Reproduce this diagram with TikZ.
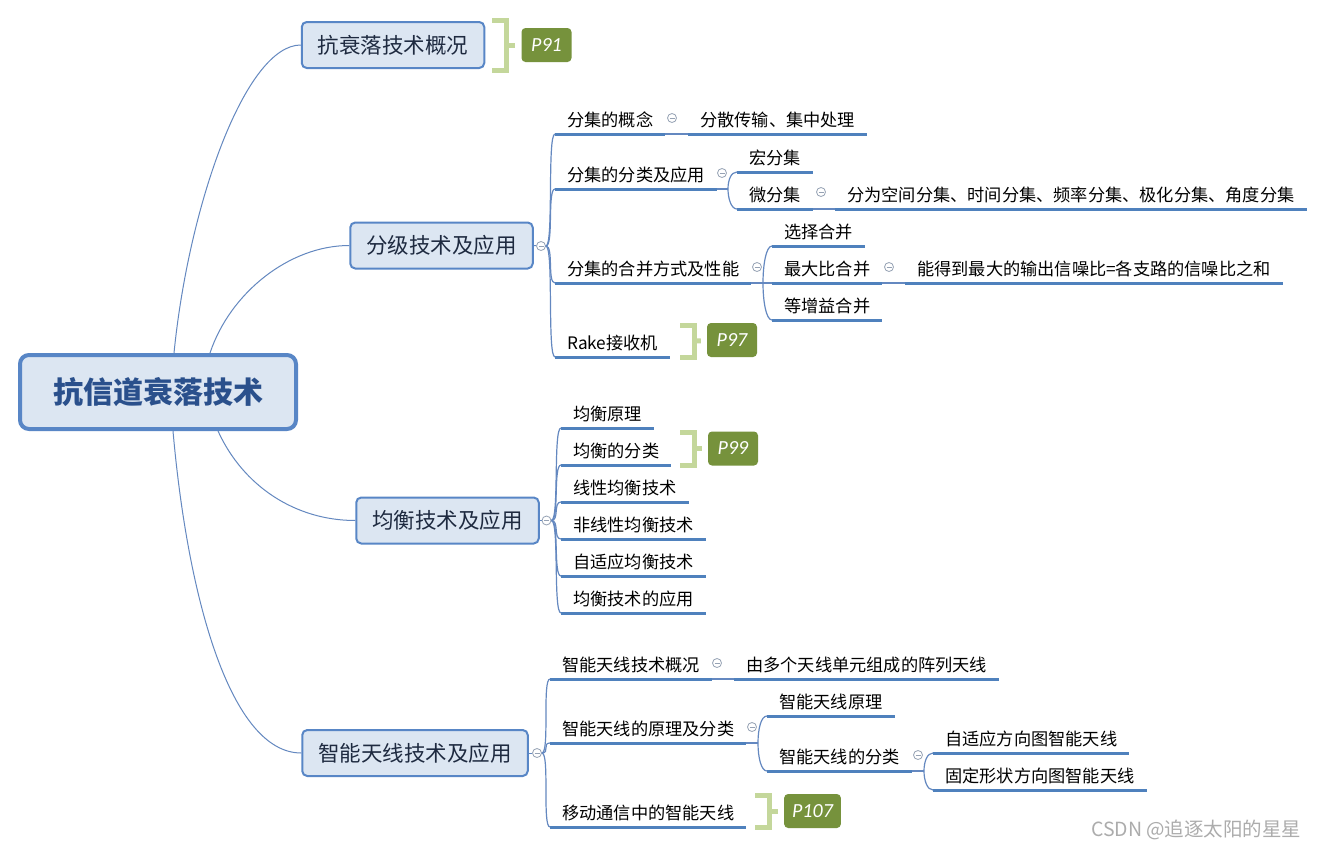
\documentclass[tikz,border=0pt]{standalone}
\usepackage{fontspec}
\setmainfont{Noto Sans CJK SC}
\newfontfamily\tagfont{Carlito}
\usetikzlibrary{positioning, calc}

\definecolor{topic-line}{RGB}{88,134,198}
\definecolor{topic-fill}{RGB}{220,230,242}
\definecolor{root-text}{RGB}{42,80,140}
\definecolor{main-text}{RGB}{30,42,64}
\definecolor{under-line}{RGB}{79,129,189}
\definecolor{link-line}{RGB}{100,136,192}
\definecolor{fold-gray}{RGB}{150,162,180}
\definecolor{tag-green}{RGB}{118,146,60}
\definecolor{brace-green}{RGB}{196,215,155}
\definecolor{mark-gray}{RGB}{172,172,172}

\begin{document}
\begin{tikzpicture}[
    x=1pt, y=-1pt,
    rootbox/.style={rectangle, draw=topic-line, fill=topic-fill, line width=4pt, rounded corners=9pt, minimum width=276pt, minimum height=74pt, text=root-text, font=\fontsize{30}{34}\selectfont\bfseries},
    topic/.style={rectangle, draw=topic-line, fill=topic-fill, line width=2pt, rounded corners=5pt, minimum height=46pt, inner xsep=16pt, text=main-text, font=\fontsize{21.5}{25}\selectfont},
    leaf/.style={anchor=south west, inner xsep=12pt, inner ysep=4pt, text height=0.8em, text depth=0.32em, font=\fontsize{17.2}{20}\selectfont,
        append after command={(\tikzlastnode.south west) edge[draw=under-line, line width=3pt] (\tikzlastnode.south east)}},
    fold/.style={circle, draw=fold-gray, fill=white, line width=0.8pt, minimum size=9pt, inner sep=0pt,
        path picture={\draw[fold-gray, line width=0.8pt] ([xshift=-2.5pt]path picture bounding box.center) -- ([xshift=2.5pt]path picture bounding box.center);}},
    link/.style={draw=link-line, line width=1pt},
    branch/.style={draw=link-line, line width=1.2pt},
    pagetag/.style={rectangle, fill=tag-green, rounded corners=4pt, minimum width=50pt, minimum height=34pt, inner xsep=8pt, text=white, font=\tagfont\itshape\fontsize{20}{24}\selectfont},
    brace/.style={draw=brace-green, line width=5pt}
]

\fill[white] (0,0) rectangle (1320,849);
\useasboundingbox (0,0) rectangle (1320,849);

% root and main topics
\node[rootbox] (root) at (158,392) {抗信道衰落技术};
\node[topic] (gaikuang) at (393,45) {抗衰落技术概况};
\node[topic] (fenji) at (441.5,245.5) {分级技术及应用};
\node[topic] (junheng) at (447.5,520.5) {均衡技术及应用};
\node[topic] (tianxian) at (415,753) {智能天线技术及应用};

\draw[link] ([xshift=16pt]root.north) .. controls +(15,-150) and +(-55,0) .. (gaikuang.west);
\draw[link] ([xshift=52pt]root.north) .. controls +(20,-60) and +(-60,0) .. (fenji.west);
\draw[link] ([xshift=60pt]root.south) .. controls +(25,55) and +(-60,0) .. (junheng.west);
\draw[link] ([xshift=15pt]root.south) .. controls +(15,170) and +(-70,0) .. (tianxian.west);

% P91
\node[pagetag] (p91) at (546.5,45) {P91};
\draw[brace] (492,20) -| (506,70) -- (492,70);
\draw[brace, shorten >=6pt] (506,45) -- (p91);

% fenji branch
\node[fold] (fenjiFold) at (541,246) {};
\draw[link] (fenji.east) -- (fenjiFold);

\node[leaf] (gainian) at (555,134) {分集的概念};
\node[leaf] (sanshu) at (688,134) {分散传输、集中处理};
\node[fold] (gainianFold) at (672,118) {};
\draw[branch] (gainian.south east) -- (sanshu.south west);

\node[leaf] (fenlei) at (555,189) {分集的分类及应用};
\node[fold] (fenleiFold) at (722,173) {};
\node[leaf] (hong) at (737,172) {宏分集};
\node[leaf] (wei) at (737,209) {微分集};
\node[fold] (weiFold) at (821,192) {};
\node[leaf] (weiDetail) at (835,209) {分为空间分集、时间分集、频率分集、极化分集、角度分集};
\coordinate (fenleiJoin) at (728,189);
\draw[branch] (fenlei.south east) -- (fenleiJoin);
\draw[branch] (fenleiJoin) .. controls +(0,-9) and +(-6,0) .. (hong.south west);
\draw[branch] (fenleiJoin) .. controls +(0,9) and +(-6,0) .. (wei.south west);
\draw[branch] (wei.south east) -- (weiDetail.south west);

\node[leaf] (hebing) at (555,283) {分集的合并方式及性能};
\node[fold] (hebingFold) at (757,267) {};
\node[leaf] (xuanze) at (772,246) {选择合并};
\node[leaf] (zuidabi) at (772,283) {最大比合并};
\node[leaf] (dengzengyi) at (772,320) {等增益合并};
\node[fold] (zuidabiFold) at (889,267) {};
\node[leaf] (zuidabiDetail) at (905,283) {能得到最大的输出信噪比=各支路的信噪比之和};
\coordinate (hebingJoin) at (763,283);
\draw[branch] (hebing.south east) -- (zuidabi.south west);
\draw[branch] (hebingJoin) .. controls +(0,-18) and +(-6,0) .. (xuanze.south west);
\draw[branch] (hebingJoin) .. controls +(0,18) and +(-6,0) .. (dengzengyi.south west);
\draw[branch] (zuidabi.south east) -- (zuidabiDetail.south west);

\node[leaf] (rake) at (555,357) {Rake接收机};
\node[pagetag] (p97) at (732,340) {P97};
\draw[brace] (680,325) -| (694,357) -- (680,357);
\draw[brace, shorten >=6pt] (694,341) -- (p97);

\foreach \leafname in {gainian, fenlei, hebing, rake}
  \draw[branch] (fenjiFold.east) .. controls +(8,0) and +(-8,0) .. (\leafname.south west);

% junheng branch
\node[fold] (junhengFold) at (546.5,520.5) {};
\draw[link] (junheng.east) -- (junhengFold);

\node[leaf] (yuanli) at (561,428) {均衡原理};
\node[leaf] (jhFenlei) at (561,465) {均衡的分类};
\node[leaf] (xianxing) at (561,502) {线性均衡技术};
\node[leaf] (feixianxing) at (561,539) {非线性均衡技术};
\node[leaf] (zishiying) at (561,576) {自适应均衡技术};
\node[leaf] (yingyong) at (561,613) {均衡技术的应用};

\node[pagetag] (p99) at (733,448.5) {P99};
\draw[brace] (680,432) -| (694,465) -- (680,465);
\draw[brace, shorten >=6pt] (694,448.5) -- (p99);

\foreach \leafname in {yuanli, jhFenlei, xianxing, feixianxing, zishiying, yingyong}
  \draw[branch] (junhengFold.east) .. controls +(8,0) and +(-8,0) .. (\leafname.south west);

% tianxian branch
\node[fold] (tianxianFold) at (537,753) {};
\draw[link] (tianxian.east) -- (tianxianFold);

\node[leaf] (txGaikuang) at (550,679) {智能天线技术概况};
\node[fold] (txGaikuangFold) at (717,663) {};
\node[leaf] (zhenlie) at (734,679) {由多个天线单元组成的阵列天线};
\draw[branch] (txGaikuang.south east) -- (zhenlie.south west);

\node[leaf] (txYuanli) at (550,743) {智能天线的原理及分类};
\node[fold] (txYuanliFold) at (752,727) {};
\node[leaf] (txJiben) at (767,716) {智能天线原理};
\node[leaf] (txFenlei) at (767,771) {智能天线的分类};
\coordinate (txYuanliJoin) at (758,743);
\draw[branch] (txYuanli.south east) -- (txYuanliJoin);
\draw[branch] (txYuanliJoin) .. controls +(0,-14) and +(-6,0) .. (txJiben.south west);
\draw[branch] (txYuanliJoin) .. controls +(0,14) and +(-6,0) .. (txFenlei.south west);

\node[fold] (txFenleiFold) at (918,755) {};
\node[leaf] (zishiyingTx) at (933,753) {自适应方向图智能天线};
\node[leaf] (gudingTx) at (933,790) {固定形状方向图智能天线};
\coordinate (txFenleiJoin) at (924,771);
\draw[branch] (txFenlei.south east) -- (txFenleiJoin);
\draw[branch] (txFenleiJoin) .. controls +(0,-9) and +(-6,0) .. (zishiyingTx.south west);
\draw[branch] (txFenleiJoin) .. controls +(0,9) and +(-6,0) .. (gudingTx.south west);

\node[leaf] (yidong) at (550,827) {移动通信中的智能天线};
\node[pagetag] (p107) at (812.5,811) {P107};
\draw[brace] (755,795) -| (769,827) -- (755,827);
\draw[brace, shorten >=6pt] (769,811) -- (p107);

\foreach \leafname in {txGaikuang, txYuanli, yidong}
  \draw[branch] (tianxianFold.east) .. controls +(8,0) and +(-8,0) .. (\leafname.south west);

% watermark
\node[anchor=east, text=mark-gray, font=\fontsize{19.5}{22}\selectfont] (watermark) at (1305,830) {CSDN @追逐太阳的星星};

\end{tikzpicture}
\end{document}
